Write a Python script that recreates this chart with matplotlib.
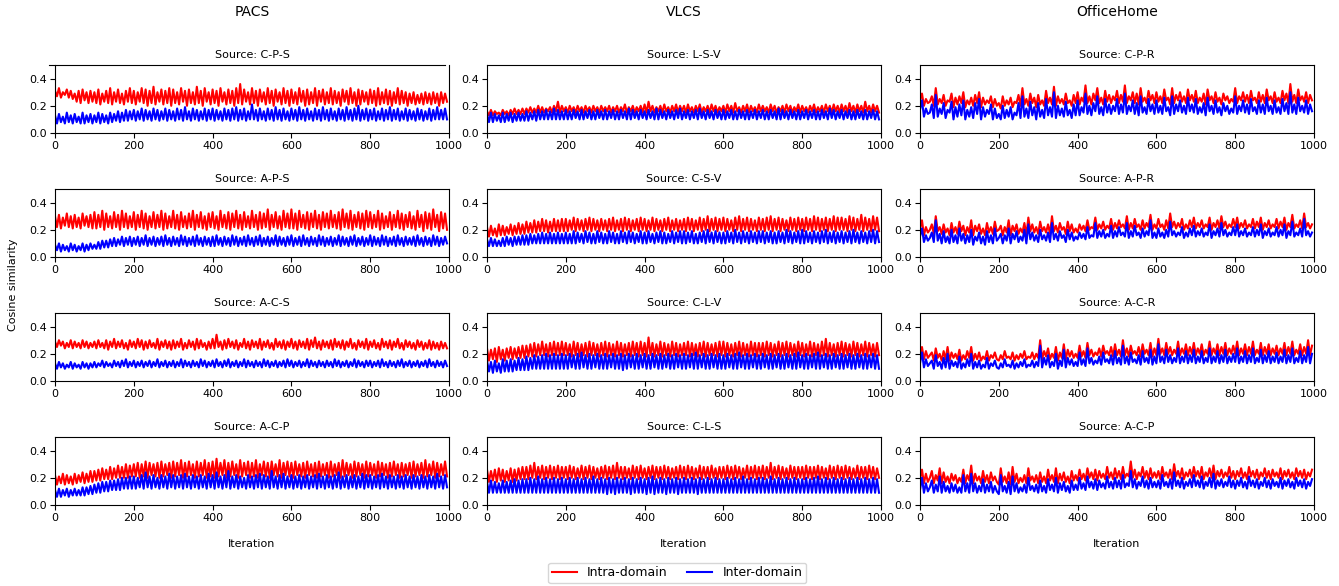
import numpy as np
import matplotlib
matplotlib.use("Agg")
import matplotlib.pyplot as plt
from matplotlib.lines import Line2D

# ---------------- data (values in hundredths, sampled every 5 iterations) ----------------
iterations = list(range(0, 1000, 5))
datasets = ["PACS", "VLCS", "OfficeHome"]
sources = [["C-P-S", "A-P-S", "A-C-S", "A-C-P"],
           ["L-S-V", "C-S-V", "C-L-V", "C-L-S"],
           ["C-P-R", "A-P-R", "A-C-R", "A-C-P"]]

pacs_cps_intra = [
 31,27,33,26,30,28,32,26,31,25,29,23,31,22,32,24,30,22,31,23,
 30,22,32,21,29,23,31,22,33,21,30,23,32,22,29,21,31,23,33,22,
 31,21,30,23,33,22,32,20,31,22,34,21,30,23,32,21,31,22,33,20,
 32,22,30,21,33,23,31,20,32,22,30,21,34,22,31,20,33,23,30,21,
 32,22,31,20,33,23,30,21,32,22,31,20,33,22,36,21,32,23,30,21,
 33,22,31,20,32,23,30,21,33,22,31,20,32,23,30,21,33,22,31,20,
 32,22,30,21,33,23,31,20,32,21,30,22,33,20,31,23,32,21,30,22,
 33,21,31,22,30,20,32,23,31,21,33,22,30,20,32,21,31,23,30,21,
 32,22,31,20,33,21,30,22,32,21,31,20,30,22,33,21,31,22,30,20,
 29,22,30,21,28,22,29,21,30,22,29,21,30,22,29,20,30,22,29,23]
pacs_cps_inter = [
 13,7,14,8,12,7,15,8,13,7,14,8,12,7,15,7,13,8,14,7,
 13,8,15,7,14,8,13,7,15,8,14,9,16,8,15,9,17,9,16,10,
 17,9,16,10,18,9,17,10,16,9,18,10,17,9,16,10,18,9,17,10,
 16,9,18,10,17,9,19,10,16,9,18,10,17,9,16,10,18,9,17,10,
 18,9,17,10,16,9,18,10,17,9,18,10,19,9,17,10,18,9,16,10,
 21,10,17,9,18,10,16,9,18,10,17,9,19,10,17,9,18,10,16,9,
 18,10,17,9,19,10,17,9,18,10,16,9,18,10,17,9,19,10,17,9,
 18,10,16,9,18,10,17,9,19,10,17,9,18,10,20,9,17,10,18,9,
 17,10,18,9,16,10,18,9,17,10,19,9,17,10,18,9,16,10,18,9,
 17,10,16,9,18,10,17,9,16,10,18,9,17,10,19,10,17,10,18,10]

pacs_aps_intra = [
 30,22,31,21,29,23,32,22,30,21,31,22,29,21,32,23,30,22,31,21,
 33,21,31,22,34,20,32,22,30,21,33,22,31,20,34,22,32,21,30,22,
 33,20,31,22,34,21,32,20,30,22,33,21,31,22,34,20,32,21,30,22,
 34,21,31,20,33,22,30,21,32,22,34,20,31,22,33,21,30,20,32,22,
 33,21,30,20,34,22,31,21,33,20,32,22,34,21,31,20,33,22,30,21,
 34,22,31,20,33,21,32,22,35,20,31,22,33,21,30,20,34,22,32,21,
 35,21,32,20,34,22,31,21,33,20,32,22,34,21,31,20,33,22,32,21,
 34,22,31,21,33,20,35,22,32,21,34,20,31,22,33,21,32,20,34,22,
 33,21,31,22,34,20,32,21,30,22,33,20,31,22,34,21,32,20,31,22,
 33,21,30,20,34,22,31,19,33,21,32,20,35,22,31,19,33,21,32,20]
pacs_aps_inter = [
 9,5,10,4,9,5,8,4,10,5,9,4,8,5,10,4,9,5,10,6,
 9,6,11,6,12,7,12,7,13,8,14,8,13,9,15,8,14,9,15,8,
 14,9,15,8,14,9,16,8,14,9,15,8,14,9,15,8,16,9,14,8,
 15,9,14,8,16,9,15,8,14,9,15,8,16,9,14,8,15,9,14,8,
 15,8,16,9,14,8,15,9,14,8,16,9,15,8,14,9,15,8,16,9,
 14,8,15,9,16,8,14,9,15,8,14,9,16,8,15,9,14,8,15,9,
 16,8,14,9,15,8,16,9,14,8,15,9,14,8,16,9,15,8,14,9,
 15,8,14,9,16,8,15,9,14,8,15,9,16,8,14,9,15,8,14,9,
 16,8,15,9,14,8,16,9,15,8,14,9,15,8,16,9,14,8,15,9,
 14,9,15,8,16,9,14,8,15,9,14,8,16,9,15,8,14,9,15,10]

pacs_acs_intra = [
 29,25,30,26,29,24,28,25,30,24,29,25,28,24,30,25,29,24,28,25,
 29,24,30,25,28,24,30,23,29,25,31,24,29,25,30,24,28,23,30,25,
 29,24,31,25,30,23,29,24,30,25,28,24,31,23,29,25,30,24,29,23,
 30,24,29,25,31,23,28,24,30,25,29,23,31,24,30,25,28,23,29,24,
 31,24,34,25,29,23,30,24,31,25,29,24,30,23,28,25,31,24,29,23,
 30,25,29,24,31,23,29,25,30,24,28,23,31,25,29,24,30,23,29,25,
 31,24,29,23,30,25,29,24,31,23,30,25,32,24,29,23,30,25,29,24,
 30,23,31,25,29,24,30,23,29,25,31,24,28,23,30,25,29,24,31,23,
 29,25,30,24,28,23,31,25,29,24,30,23,29,25,31,24,28,23,30,25,
 29,24,28,23,30,25,29,23,28,24,30,23,29,24,28,23,29,24,28,24]
pacs_acs_inter = [
 13,9,14,10,13,9,12,10,14,9,13,10,12,9,14,10,13,9,13,10,
 14,10,13,11,15,10,14,11,13,10,15,11,14,10,15,11,16,10,14,11,
 15,10,14,11,15,10,14,11,15,10,14,11,16,10,14,11,15,10,14,11,
 15,10,14,11,16,10,15,11,14,10,15,11,14,10,16,11,15,10,14,11,
 15,10,16,11,14,10,15,11,16,10,14,11,15,10,14,11,16,10,15,11,
 14,10,15,11,14,10,16,11,15,10,14,11,15,10,14,11,15,10,16,11,
 15,10,14,11,15,10,14,11,16,10,15,11,14,10,15,11,14,10,15,11,
 14,10,16,11,15,10,14,11,15,10,14,11,16,10,15,11,14,10,15,11,
 15,10,14,11,15,10,16,11,14,10,15,11,14,10,15,11,16,10,14,11,
 15,10,14,11,15,10,14,11,15,10,16,11,14,10,15,11,14,10,15,11]

pacs_acp_intra = [
 22,15,21,16,23,15,22,16,21,15,23,16,22,17,24,16,23,17,25,17,
 25,18,26,18,27,19,26,19,28,19,27,20,29,20,28,20,30,20,29,21,
 30,21,31,20,30,21,32,20,31,22,30,21,31,20,32,21,30,22,31,20,
 32,21,31,22,33,20,31,21,32,22,30,20,32,21,31,22,33,20,31,21,
 32,20,34,21,31,22,33,20,31,21,32,22,30,20,33,21,31,22,32,20,
 31,21,33,20,30,22,32,21,31,20,32,22,30,21,33,20,31,22,32,21,
 31,20,32,22,30,21,31,20,32,22,30,21,31,20,32,21,30,22,31,20,
 32,21,30,22,31,20,33,21,31,22,30,20,32,21,31,22,30,20,32,21,
 31,22,30,20,32,21,31,22,30,20,31,21,32,22,30,20,31,21,30,22,
 31,20,32,21,30,22,31,20,33,21,30,22,32,20,31,21,30,22,32,21]
pacs_acp_inter = [
 11,6,12,6,11,7,12,6,11,7,12,7,11,7,13,7,13,8,14,8,
 15,9,16,9,17,10,17,10,18,11,18,11,19,11,20,12,20,12,21,12,
 21,12,20,13,22,12,24,13,21,12,22,13,20,12,22,13,21,12,23,13,
 22,12,21,13,22,12,23,13,21,12,22,13,21,12,22,13,21,12,23,13,
 22,12,24,13,21,12,22,13,25,12,21,13,22,12,21,13,20,12,22,13,
 21,12,22,13,23,12,22,13,21,12,25,13,21,12,22,13,23,12,21,13,
 22,12,21,13,22,12,21,13,22,12,21,13,22,12,23,13,21,12,22,13,
 21,12,22,13,24,12,21,13,22,12,21,13,22,12,21,13,23,12,22,13,
 22,12,21,13,22,12,23,13,21,12,22,13,21,12,22,13,21,12,22,13,
 21,12,22,13,21,12,22,13,21,12,22,13,21,12,23,13,21,12,22,13]

vlcs_lsv_intra = [
 16,13,17,13,16,14,15,13,17,14,16,13,17,14,18,14,17,14,18,14,
 18,15,19,15,18,15,20,15,19,15,18,16,19,15,20,16,23,15,20,16,
 19,15,20,16,19,15,20,16,19,15,20,16,19,15,20,16,19,15,20,16,
 19,16,20,15,19,16,20,15,19,16,21,15,19,16,20,15,19,16,20,15,
 21,15,23,16,20,15,19,16,20,15,21,16,19,15,20,16,21,15,20,16,
 20,15,21,16,19,15,20,16,21,15,19,16,20,15,21,16,20,15,19,16,
 20,15,21,16,20,15,22,16,19,15,20,16,21,15,20,16,19,15,21,16,
 20,16,19,15,21,16,20,15,19,16,20,15,21,16,20,15,19,16,21,15,
 20,16,19,15,20,16,21,15,19,16,20,15,21,16,20,15,21,16,20,15,
 21,16,20,15,22,16,20,15,21,16,20,15,23,16,20,15,21,16,20,15]
vlcs_lsv_inter = [
 14,8,15,8,14,9,13,8,15,8,14,9,15,8,14,9,15,9,14,9,
 16,9,15,10,16,9,17,10,16,10,17,10,16,10,18,10,17,10,16,10,
 17,10,16,10,17,11,16,10,17,10,16,11,17,10,16,10,17,11,16,10,
 17,10,16,11,17,10,16,10,17,11,16,10,18,10,17,11,16,10,17,11,
 16,10,17,11,16,10,18,10,17,11,16,10,17,11,16,10,17,11,18,10,
 16,11,17,10,16,11,17,10,18,11,16,10,17,11,16,10,17,11,16,10,
 17,10,16,11,17,10,16,10,17,11,16,10,17,10,16,11,17,10,16,11,
 17,10,16,10,17,11,16,10,18,10,17,11,16,10,17,11,16,10,17,10,
 16,11,17,10,16,11,17,10,16,10,17,11,16,10,18,11,17,10,16,11,
 17,10,16,11,17,10,16,10,17,11,16,10,17,10,16,11,17,10,16,10]

vlcs_csv_intra = [
 22,15,23,16,21,15,24,16,23,16,22,17,24,16,23,17,25,17,24,17,
 26,18,25,18,27,18,26,19,28,19,27,18,26,19,28,19,27,19,28,19,
 28,19,27,20,29,19,28,20,27,19,28,20,29,19,28,20,27,19,28,20,
 27,19,28,20,29,19,27,20,28,19,29,20,28,19,27,20,28,19,29,20,
 28,19,27,20,29,19,28,20,27,19,28,20,29,19,27,20,28,19,27,20,
 28,19,29,20,28,19,27,20,29,19,28,20,30,19,28,20,29,19,28,20,
 29,19,28,20,27,19,29,20,30,19,28,20,29,19,28,20,27,19,29,20,
 28,19,29,20,30,19,28,20,29,19,28,20,27,19,29,20,28,19,29,20,
 28,19,29,20,28,19,30,20,29,19,28,20,29,19,28,20,30,19,29,20,
 29,20,28,19,30,20,29,19,28,20,31,19,29,20,28,19,30,20,29,19]
vlcs_csv_inter = [
 13,8,14,8,13,8,12,8,14,8,15,9,14,8,15,9,15,9,16,9,
 16,9,17,10,16,10,17,10,18,10,17,10,18,10,17,10,18,10,17,10,
 18,10,17,10,19,10,18,11,17,10,19,11,18,10,17,10,19,11,18,10,
 17,10,19,11,18,10,17,10,19,11,18,10,19,11,18,10,17,11,19,10,
 18,10,19,11,17,10,18,11,19,10,18,10,17,11,19,10,18,11,19,10,
 19,10,18,11,19,10,17,10,18,11,19,10,20,11,18,10,19,11,18,10,
 18,10,19,11,18,10,20,11,18,10,19,11,18,10,19,11,18,10,19,11,
 19,10,18,11,19,10,18,10,19,11,18,10,20,11,19,10,18,11,19,10,
 20,10,19,11,18,10,19,11,18,10,19,11,20,10,18,11,19,10,18,11,
 19,10,18,11,19,10,20,11,18,10,19,11,18,10,19,11,20,10,19,11]

vlcs_clv_intra = [
 24,15,23,16,24,14,25,16,23,15,24,17,25,16,24,17,25,17,26,17,
 26,18,27,18,28,18,27,19,29,19,27,18,28,19,29,19,28,19,29,19,
 28,19,27,18,29,19,28,18,27,19,28,18,29,19,28,19,27,18,28,19,
 29,18,28,19,27,18,29,19,28,18,27,19,28,18,29,19,28,18,29,19,
 28,18,32,19,28,18,27,19,29,18,28,19,27,18,29,19,28,18,27,19,
 28,19,29,18,28,19,27,18,28,19,29,18,28,19,27,19,28,18,29,19,
 29,18,28,19,27,18,28,19,29,18,28,19,27,18,29,19,28,18,28,19,
 28,18,29,19,28,18,27,19,29,18,28,19,29,18,28,19,27,18,29,19,
 28,18,27,19,29,18,28,19,27,18,29,19,31,18,28,19,27,18,28,19,
 29,18,28,19,27,18,29,19,28,18,27,19,29,18,28,19,27,18,28,19]
vlcs_clv_inter = [
 15,7,14,6,15,7,13,6,16,7,15,7,16,7,15,8,17,8,16,8,
 18,8,17,9,19,9,18,9,19,9,20,9,19,9,20,9,19,9,20,9,
 19,9,20,10,19,9,20,9,21,10,19,9,20,9,19,10,20,9,19,9,
 20,9,19,10,20,9,19,9,20,8,19,9,20,10,19,9,20,9,19,10,
 20,9,19,9,20,10,19,9,20,9,19,10,20,9,19,9,20,10,19,9,
 20,9,19,10,20,9,21,9,19,10,20,9,19,9,20,10,19,9,20,9,
 19,9,20,10,19,9,20,9,21,10,19,9,20,9,19,10,20,9,19,9,
 20,10,19,9,20,9,19,10,20,9,19,9,20,10,19,9,20,9,21,10,
 19,9,20,9,19,10,20,9,21,9,19,10,20,9,19,9,20,10,19,9,
 20,9,19,10,20,9,19,9,20,10,19,9,20,9,19,10,20,9,19,9]

vlcs_cls_intra = [
 26,17,25,18,26,17,27,18,26,17,25,18,27,17,26,18,27,19,28,19,
 28,19,29,20,31,19,28,20,29,19,28,20,29,19,28,20,29,19,28,20,
 28,19,29,20,28,19,27,20,29,19,28,20,29,19,28,20,27,19,28,20,
 29,19,28,20,29,19,31,20,28,19,28,20,27,19,29,20,28,19,29,20,
 27,19,28,20,29,19,28,20,28,19,29,20,28,19,27,20,28,19,29,20,
 28,19,29,20,28,19,27,20,29,19,28,20,28,19,29,20,27,19,28,20,
 28,19,29,20,28,19,29,20,28,19,27,20,29,19,28,20,29,19,28,20,
 29,19,28,20,31,19,28,20,29,19,28,20,27,19,29,20,28,19,28,20,
 28,19,29,20,28,19,28,20,29,19,28,20,27,19,29,20,28,19,29,20,
 28,19,29,20,28,19,27,20,29,19,28,20,28,19,29,20,28,19,27,20]
vlcs_cls_inter = [
 17,9,18,9,17,9,16,9,18,9,17,9,18,9,19,9,18,9,19,9,
 19,9,20,9,19,9,21,9,19,9,20,9,19,9,20,9,19,9,20,9,
 19,9,20,9,19,9,20,9,19,9,20,9,19,9,21,9,19,9,20,9,
 19,8,20,9,19,8,20,9,19,9,20,9,19,8,20,9,19,9,20,9,
 19,8,20,9,21,8,19,9,20,9,19,8,20,9,19,9,20,8,19,9,
 20,9,19,9,20,9,19,8,20,9,19,9,20,9,19,9,20,9,19,9,
 19,9,20,9,19,9,20,9,19,9,21,9,19,9,20,9,19,9,20,9,
 20,9,19,9,21,9,19,9,20,9,19,9,20,9,19,9,20,9,19,9,
 19,9,20,9,19,9,20,9,21,9,19,9,20,9,19,9,20,9,19,9,
 20,9,19,9,20,9,19,9,20,9,19,9,20,9,19,9,20,9,19,9]

oh_cpr_intra = [
 24,29,20,25,22,23,27,20,33,21,25,22,28,20,24,23,29,19,26,21,
 27,22,30,19,24,21,26,20,28,22,30,19,26,21,24,22,27,19,25,20,
 22,18,27,20,24,21,26,19,23,22,28,20,33,21,25,20,29,22,26,19,
 28,21,24,20,31,22,26,21,34,20,27,22,25,21,29,22,24,20,28,22,
 30,21,26,23,35,22,27,21,29,24,33,22,26,21,31,23,28,22,27,24,
 31,22,28,23,35,22,27,24,30,22,29,21,33,23,26,22,31,24,28,22,
 30,23,27,22,32,24,26,21,33,22,28,24,30,23,27,22,32,24,28,23,
 31,22,26,23,29,21,32,24,27,22,30,23,26,21,29,24,27,22,25,23,
 33,22,27,24,30,23,28,22,31,24,26,22,30,23,28,22,32,24,27,22,
 30,23,26,22,31,24,29,22,36,23,28,22,32,24,27,23,30,22,28,24]
oh_cpr_inter = [
 17,24,12,18,14,15,21,11,28,12,18,14,22,11,17,15,23,10,19,12,
 21,13,24,10,17,12,19,11,22,14,25,10,19,12,17,14,21,10,18,11,
 14,10,20,11,17,12,19,10,15,13,22,11,27,12,18,11,23,13,19,10,
 22,12,17,11,25,13,19,12,30,11,20,13,18,12,23,13,17,11,21,13,
 24,13,19,15,29,14,20,13,22,16,27,14,19,13,25,15,21,14,20,16,
 25,14,21,15,29,14,20,16,24,14,22,13,27,15,19,14,25,16,21,14,
 24,15,20,14,26,16,19,13,27,14,21,16,24,15,20,14,26,16,21,15,
 25,14,19,15,22,13,26,16,20,14,24,15,19,13,22,16,20,14,18,15,
 27,14,20,16,24,15,21,14,25,16,19,14,24,15,21,14,26,16,20,14,
 24,15,19,14,25,16,22,14,30,15,21,14,26,16,20,15,24,14,21,16]

oh_apr_intra = [
 21,27,16,22,18,20,24,17,30,19,22,17,24,18,21,16,25,18,22,17,
 26,19,23,16,22,18,27,16,23,19,24,17,21,16,25,18,22,17,26,19,
 20,23,16,22,18,27,16,23,19,24,17,21,18,25,16,29,19,24,18,22,
 17,26,19,22,18,24,17,30,19,23,18,25,20,22,17,26,19,24,18,21,
 18,24,20,23,19,27,20,22,21,29,20,24,21,26,20,23,21,28,20,25,
 21,27,22,24,21,30,20,25,21,28,22,24,20,27,21,25,22,31,20,24,
 21,28,22,24,20,27,21,32,22,26,21,25,22,28,20,24,21,27,22,29,
 21,25,22,27,21,24,22,29,20,25,22,27,21,30,22,26,21,24,22,28,
 22,29,21,25,22,27,21,24,22,28,21,26,22,29,20,25,22,27,21,24,
 22,28,21,26,22,29,20,25,22,31,21,24,22,27,21,32,22,25,21,24]
oh_apr_inter = [
 15,21,11,16,12,14,18,11,27,12,17,10,19,11,15,10,20,11,16,10,
 21,12,17,10,16,11,20,9,15,12,18,10,15,9,19,11,16,10,21,12,
 14,17,10,16,12,21,10,17,13,19,11,15,12,20,10,24,13,18,12,16,
 11,20,13,16,12,18,11,25,13,17,12,19,14,16,11,20,13,18,12,15,
 13,18,14,17,13,22,14,16,15,25,14,19,15,20,14,17,15,23,14,19,
 15,22,16,18,15,25,14,19,15,23,16,18,14,21,15,19,16,27,14,18,
 14,21,15,18,14,20,15,26,16,19,15,18,16,22,14,18,15,21,16,23,
 15,19,16,21,15,18,16,24,14,19,16,21,15,25,16,20,15,18,16,22,
 16,24,15,19,16,21,15,18,16,22,15,20,16,24,14,19,16,21,15,18,
 16,22,15,20,16,24,14,19,16,26,15,18,16,21,15,28,16,19,15,18]

oh_acr_intra = [
 20,25,16,22,17,19,21,15,24,17,20,15,22,16,25,15,21,17,20,16,
 23,15,19,16,22,17,25,15,20,16,21,15,18,16,22,15,19,17,21,16,
 15,19,16,22,17,18,16,21,15,19,16,20,17,22,16,18,17,21,16,20,
 17,30,16,22,18,24,16,20,17,25,15,21,17,27,16,23,18,22,17,20,
 17,26,18,22,17,28,19,23,18,21,19,24,18,26,20,22,19,25,18,27,
 19,23,18,30,19,24,18,26,20,22,19,25,18,27,20,23,19,28,18,24,
 19,31,20,24,19,28,20,25,19,23,20,29,19,24,20,27,19,25,20,28,
 19,24,20,27,19,23,20,29,19,24,20,27,19,25,20,28,19,24,20,26,
 20,29,19,24,20,27,19,25,20,29,19,23,20,28,19,25,20,27,19,24,
 20,26,19,24,20,28,19,25,20,29,19,23,20,27,19,25,20,30,19,26]
oh_acr_inter = [
 13,21,10,16,11,13,15,9,19,11,14,9,17,10,20,9,15,11,14,10,
 18,9,13,10,16,11,20,9,14,10,15,9,12,10,17,9,13,11,15,10,
 9,13,10,16,11,12,10,15,9,13,10,14,11,16,10,12,11,15,10,14,
 11,26,10,17,12,19,10,14,11,20,9,15,11,23,10,17,12,16,11,14,
 11,21,12,16,11,24,13,17,12,15,13,18,12,21,14,16,13,19,12,22,
 13,17,12,26,13,18,12,21,14,16,13,19,12,22,14,17,13,23,12,18,
 13,27,14,18,13,23,14,19,13,17,14,24,13,18,14,22,13,19,14,23,
 13,18,14,22,13,17,14,24,13,18,14,22,13,19,14,23,13,18,14,20,
 14,24,13,18,14,22,13,19,14,24,13,17,14,23,13,19,14,22,13,18,
 14,21,13,18,14,23,13,19,14,24,13,17,14,22,13,19,14,25,13,20]

oh_acp_intra = [
 19,26,16,23,17,20,25,16,22,18,27,16,24,17,21,16,23,18,22,16,
 20,17,26,16,22,18,29,16,23,18,21,16,25,17,22,16,24,18,21,17,
 15,27,17,21,16,24,15,28,17,23,16,20,17,22,16,27,18,21,17,22,
 16,24,17,21,16,26,18,22,17,27,16,23,18,24,17,21,16,25,18,22,
 18,26,19,23,18,27,20,24,19,26,18,25,20,23,19,28,20,24,19,27,
 20,25,19,28,20,23,21,32,20,26,19,24,21,28,20,25,19,27,20,24,
 20,25,19,28,21,24,20,26,19,30,21,25,20,27,19,24,21,26,20,28,
 21,25,20,28,19,24,21,27,20,29,19,25,21,26,20,24,21,28,20,25,
 19,25,21,27,20,24,19,28,21,25,20,26,19,24,21,27,20,25,19,26,
 21,24,20,27,19,25,21,26,20,24,19,27,21,25,20,26,19,24,21,26]
oh_acp_inter = [
 11,20,9,16,10,13,18,9,15,10,21,9,17,10,14,9,16,10,15,9,
 13,9,22,10,16,9,23,10,16,9,14,10,19,9,15,10,17,9,14,10,
 8,22,10,14,9,17,8,21,10,16,9,13,10,15,9,20,11,14,10,15,
 9,18,10,14,9,19,11,15,10,20,9,16,11,17,10,14,9,18,11,15,
 11,20,12,16,11,21,13,17,12,19,11,18,13,16,12,21,13,17,12,20,
 13,18,12,22,13,16,14,25,13,19,12,17,14,21,13,18,12,20,13,17,
 13,18,12,22,14,17,13,19,12,24,14,18,13,20,12,17,14,19,13,22,
 14,18,13,21,12,17,14,20,13,23,12,18,14,19,13,17,14,21,13,18,
 12,18,14,20,13,17,12,21,14,18,13,19,12,17,14,20,13,18,12,19,
 14,17,13,20,12,18,14,19,13,17,12,20,14,18,13,19,12,17,14,19]

intra = [[pacs_cps_intra, pacs_aps_intra, pacs_acs_intra, pacs_acp_intra],
         [vlcs_lsv_intra, vlcs_csv_intra, vlcs_clv_intra, vlcs_cls_intra],
         [oh_cpr_intra, oh_apr_intra, oh_acr_intra, oh_acp_intra]]
inter = [[pacs_cps_inter, pacs_aps_inter, pacs_acs_inter, pacs_acp_inter],
         [vlcs_lsv_inter, vlcs_csv_inter, vlcs_clv_inter, vlcs_cls_inter],
         [oh_cpr_inter, oh_apr_inter, oh_acr_inter, oh_acp_inter]]

# ---------------- figure ----------------
W, H = 1339, 586
fig = plt.figure(figsize=(W / 100, H / 100), dpi=100)

col_left = [55, 487, 920]
col_w = 394
row_top = [65, 189, 313, 437]
row_h = 68

x = np.array(iterations)
for c in range(3):
    for r in range(4):
        ax = fig.add_axes([col_left[c] / W, 1 - (row_top[r] + row_h) / H, col_w / W, row_h / H])
        ax.plot(x, np.array(intra[c][r]) / 100.0, color="red", lw=1.5)
        ax.plot(x, np.array(inter[c][r]) / 100.0, color="blue", lw=1.5)
        ax.set_xlim(0, 1000)
        ax.set_ylim(0, 0.5)
        ax.set_yticks([0.0, 0.2, 0.4])
        ax.set_xticks([0, 200, 400, 600, 800, 1000])
        ax.tick_params(labelsize=8, length=3.5, pad=2)
        ax.set_title("Source: " + sources[c][r], fontsize=8, pad=5)
        if c == 0 and r == 0:
            ax.spines["top"].set_visible(False)
            ax.add_line(Line2D([-0.015, 0.99], [1, 1], transform=ax.transAxes,
                               color="black", lw=0.8, clip_on=False))
    cx = (col_left[c] + col_w / 2) / W
    fig.text(cx, 1 - 12 / H, datasets[c], ha="center", va="center", fontsize=10)
    fig.text(cx, 1 - 544 / H, "Iteration", ha="center", va="center", fontsize=8)

fig.text(13 / W, 1 - 285 / H, "Cosine similarity", rotation=90, ha="center", va="center", fontsize=8)

handles = [Line2D([], [], color="red", lw=1.5), Line2D([], [], color="blue", lw=1.5)]
fig.legend(handles, ["Intra-domain", "Inter-domain"], loc="center",
           bbox_to_anchor=(677 / W, 1 - 573 / H), ncol=2, fontsize=9,
           frameon=True, handlelength=2.0, columnspacing=1.6,
           borderpad=0.3, handletextpad=0.8)

fig.savefig("out.png", dpi=100)
